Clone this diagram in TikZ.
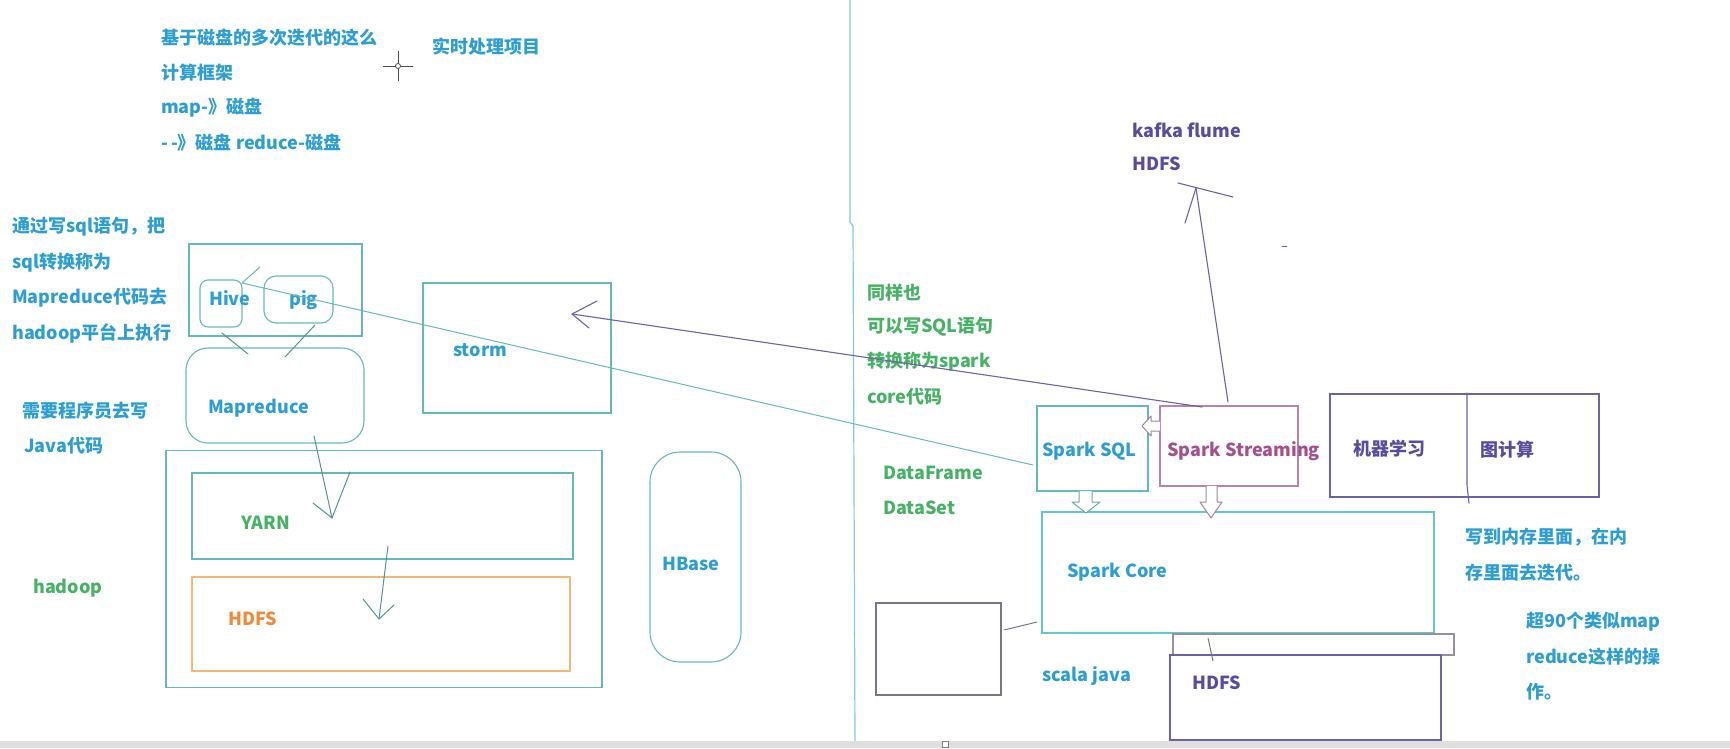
\documentclass[tikz,border=0pt]{standalone}
\usepackage{fontspec}
\setmainfont{Noto Sans CJK SC}
\definecolor{tblue}{RGB}{45,158,212}
\definecolor{tgreen}{RGB}{70,178,100}
\definecolor{torange}{RGB}{238,138,58}
\definecolor{tpurple}{RGB}{88,76,160}
\definecolor{tpink}{RGB}{165,80,140}
\definecolor{lteal}{RGB}{100,186,186}
\definecolor{lcyan}{RGB}{95,200,212}
\definecolor{lorange}{RGB}{240,185,120}
\definecolor{lpurple}{RGB}{112,96,168}
\definecolor{lpink}{RGB}{180,135,170}
\definecolor{lgray}{RGB}{125,115,135}
\definecolor{ldiv}{RGB}{130,200,228}
\tikzset{
  box/.style={draw=lteal, line width=1.1pt, inner sep=0pt},
  lbl/.style={anchor=west, inner sep=0pt, font=\bfseries\fontsize{18}{20}\selectfont},
  stroke/.style={draw=lteal!80!black, line width=1pt, line cap=round, line join=round},
  pstroke/.style={draw=lpurple, line width=1.1pt, line cap=round, line join=round}
}
\begin{document}
\begin{tikzpicture}[x=1pt,y=-1pt]
\useasboundingbox (0,0) rectangle (1730,748);
\fill[white] (0,0) rectangle (1730,748);
% divider and bottom bar
\draw[ldiv, line width=1.2pt] (850,0) -- (850,222) -- (853,226) -- (855,741);
\fill[gray!25] (0,741) rectangle (1730,748);
\draw[gray, fill=white, line width=0.6pt] (942,741) rectangle (948,747);
% cursor
\draw[black!70, line width=1pt] (383,66) -- (413,66) (398,51) -- (398,81);
\draw[black!70, line width=0.8pt, fill=white] (398,66) circle (2.5);

% notes top left
\node[lbl, tblue] (disk1) at (161,38) {基于磁盘的多次迭代的这么};
\node[lbl, tblue] (disk2) at (161,73) {计算框架};
\node[lbl, tblue] (disk3) at (161,108) {map-》磁盘};
\node[lbl, tblue] (disk4) at (161,143) {-\,-》磁盘 reduce-磁盘};
\node[lbl, tblue] (realtime) at (432,47) {实时处理项目};
\node[lbl, tblue] (sql1) at (12,227) {通过写sql语句，把};
\node[lbl, tblue] (sql2) at (12,263) {sql转换称为};
\node[lbl, tblue] (sql3) at (12,298) {Mapreduce代码去};
\node[lbl, tblue] (sql4) at (12,333) {hadoop平台上执行};
\node[lbl, tblue] (java1) at (22,411) {需要程序员去写};
\node[lbl, tblue] (java2) at (24,446) {Java代码};
\node[lbl, tgreen] (hadooptxt) at (33,588) {hadoop};

% hadoop side
\node[box, minimum width=173pt, minimum height=92pt] (hivepig) at (275.5,290) {};
\node[box, rounded corners=8pt, minimum width=42pt, minimum height=47pt] (hive) at (221,303.5) {};
\node[box, rounded corners=12pt, minimum width=69pt, minimum height=47pt] (pig) at (298.5,299.5) {};
\node[lbl, tblue] (hivetxt) at (209,298) {Hive};
\node[lbl, tblue] (pigtxt) at (289,300) {pig};
\node[box, rounded corners=22pt, minimum width=178pt, minimum height=95pt] (mapred) at (275,395.5) {};
\node[lbl, tblue] (mapredtxt) at (208,408) {Mapreduce};
\node[box, minimum width=436pt, minimum height=237pt] (hadoop) at (384,569) {};
\node[box, minimum width=381pt, minimum height=86pt] (yarn) at (382.5,516) {};
\node[lbl, tgreen] (yarntxt) at (241,523) {YARN};
\node[box, draw=lorange, minimum width=378pt, minimum height=94pt] (hdfsl) at (381,624) {};
\node[lbl, torange] (hdfsltxt) at (228,619) {HDFS};
\node[box, rounded corners=30pt, minimum width=91pt, minimum height=210pt] (hbase) at (695.5,557) {};
\node[lbl, tblue] (hbasetxt) at (662,564) {HBase};
\node[box, minimum width=188pt, minimum height=130pt] (storm) at (517,348) {};
\node[lbl, tblue] (stormtxt) at (453,350) {storm};

% spark side
\node[lbl, tgreen] (same1) at (867,293) {同样也};
\node[lbl, tgreen] (same2) at (867,327) {可以写SQL语句};
\node[lbl, tgreen] (same3) at (867,362) {转换称为spark};
\node[lbl, tgreen] (same4) at (867,397) {core代码};
\node[lbl, tgreen] (dframe) at (883,473) {DataFrame};
\node[lbl, tgreen] (dset) at (883,508) {DataSet};
\node[lbl, tpurple] (kafka) at (1132,130) {kafka flume};
\node[lbl, tpurple] (hdfstop) at (1132,164) {HDFS};
\node[box, minimum width=111pt, minimum height=85pt] (sparksql) at (1092.5,448.5) {};
\node[lbl, tblue] (sparksqltxt) at (1042,451) {Spark SQL};
\node[box, draw=lpink, minimum width=138pt, minimum height=80pt] (streaming) at (1229,446) {};
\node[lbl, tpink] (streamingtxt) at (1167,451) {Spark Streaming};
\node[box, draw=lpurple, minimum width=269pt, minimum height=103pt] (mlgraph) at (1464.5,445.5) {};
\node[lbl, tpurple] (mltxt) at (1353,449) {机器学习};
\node[lbl, tpurple] (graphtxt) at (1480,450) {图计算};
\node[box, draw=lcyan, minimum width=392pt, minimum height=121pt] (core) at (1238,572.5) {};
\node[lbl, tblue] (coretxt) at (1067,572) {Spark Core};
\node[box, draw=lgray, minimum width=125pt, minimum height=92pt] (small) at (938.5,649) {};
\node[lbl, tblue] (scala) at (1042,676) {scala java};
\node[box, draw=lgray!80, minimum width=281pt, minimum height=21pt] (thin) at (1313.5,644.5) {};
\node[box, draw=lpurple, minimum width=271pt, minimum height=85pt] (hdfsr) at (1305.5,697.5) {};
\node[lbl, tpurple] (hdfsrtxt) at (1192,683) {HDFS};
\node[lbl, tblue] (mem1) at (1465,537) {写到内存里面，在内};
\node[lbl, tblue] (mem2) at (1465,573) {存里面去迭代。};
\node[lbl, tblue] (ops1) at (1526,622) {超90个类似map};
\node[lbl, tblue] (ops2) at (1526,657) {reduce这样的操};
\node[lbl, tblue] (ops3) at (1526,692) {作。};

% hand strokes on the left
\coordinate (hv1) at (260,267);
\coordinate (hv2) at (242,283);
\coordinate (sq1) at (1033,465);
\draw[stroke, draw=lteal] (hv1) -- (hv2) -- (sq1);
\coordinate (h2m1) at (222,333);
\coordinate (h2m2) at (248,354);
\draw[stroke] (h2m1) -- (h2m2);
\coordinate (p2m1) at (315,325);
\coordinate (p2m2) at (285,357);
\draw[stroke] (p2m1) -- (p2m2);
\coordinate (m2y1) at (314,436);
\coordinate (m2y2) at (332,518);
\coordinate (m2ya) at (313,503);
\coordinate (m2yb) at (350,472);
\draw[stroke] (m2y1) -- (m2y2);
\draw[stroke] (m2ya) -- (m2y2) -- (m2yb);
\coordinate (y2h1) at (388,546);
\coordinate (y2h2) at (379,619);
\coordinate (y2ha) at (363,599);
\coordinate (y2hb) at (394,605);
\draw[stroke] (y2h1) -- (y2h2);
\draw[stroke] (y2ha) -- (y2h2) -- (y2hb);

% purple strokes
\coordinate (st1) at (1202,407);
\coordinate (st2) at (572,314);
\coordinate (st2a) at (597,301);
\coordinate (st2b) at (589,328);
\draw[pstroke] (st1) -- (st2);
\draw[pstroke] (st2a) -- (st2) -- (st2b);
\coordinate (kf1) at (1228,402);
\coordinate (kf2) at (1196,188);
\coordinate (kf2a) at (1185,223);
\coordinate (kfx1) at (1178,183);
\coordinate (kfx2) at (1233,197);
\draw[pstroke] (kf1) -- (kf2);
\draw[pstroke] (kf2a) -- (kf2);
\draw[pstroke] (kfx1) -- (kfx2);
\draw[pstroke, line width=0.9pt] (1282,246) -- (1287,246);
\draw[pstroke] (1467,393) -- (1467,485) -- (1469,503);

% hollow arrows
\draw[lteal!70!gray, line width=1pt, line join=round, fill=white]
  (1079,491) -- (1079,502) -- (1072,502) -- (1086,513) -- (1100,502) -- (1092,502) -- (1092,491);
\draw[lpink!70!gray, line width=1pt, line join=round, fill=white]
  (1206,486) -- (1206,502) -- (1200,502) -- (1211,518) -- (1222,502) -- (1217,502) -- (1217,486);
\draw[lpink!70!gray, line width=1pt, line join=round, fill=white]
  (1160,421) -- (1151,421) -- (1151,416) -- (1142,426) -- (1151,436) -- (1151,431) -- (1160,431);

% core links
\coordinate (sb1) at (1004,630);
\coordinate (sb2) at (1037,622);
\draw[draw=lgray, line width=1pt] (sb1) -- (sb2);
\coordinate (th1) at (1208,638);
\coordinate (th2) at (1213,661);
\draw[draw=lgray, line width=1pt] (th1) -- (th2);
\end{tikzpicture}
\end{document}
